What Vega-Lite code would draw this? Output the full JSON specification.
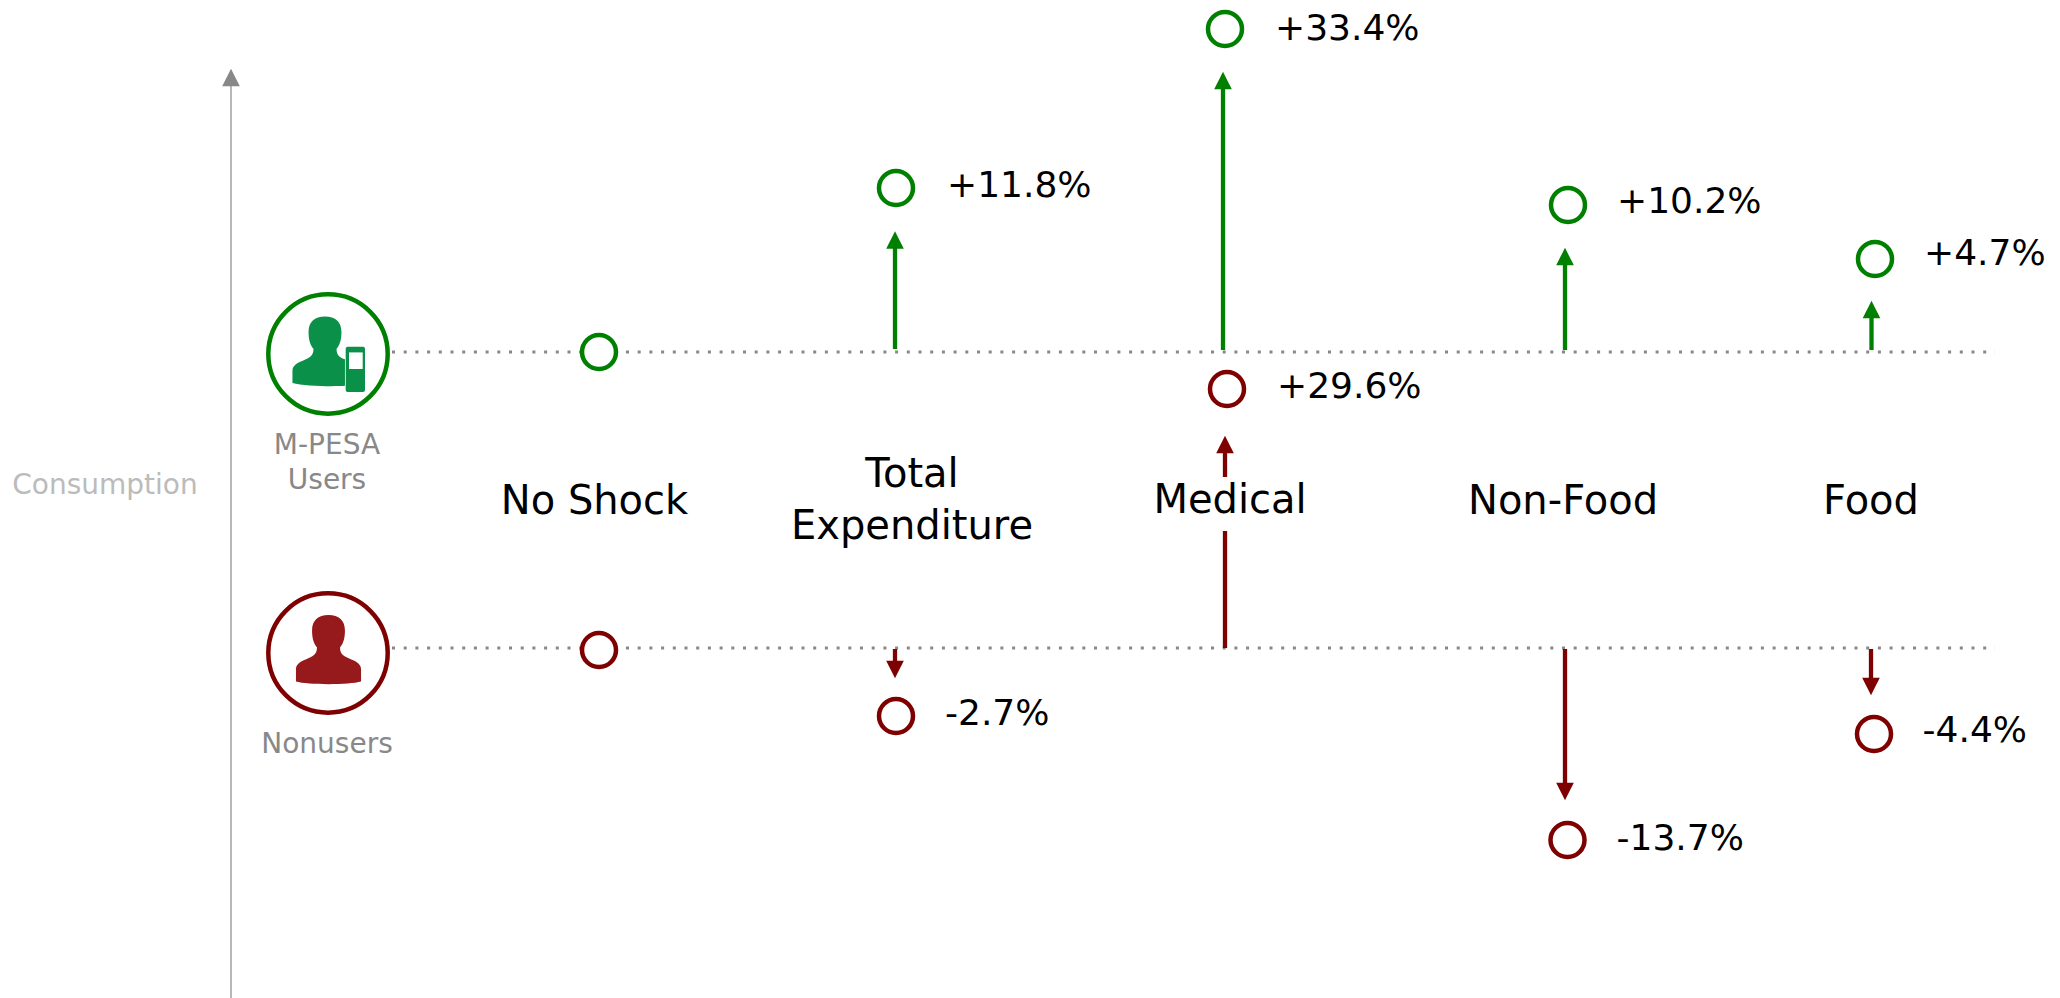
{"$schema":"https://vega.github.io/schema/vega-lite/v6.json","width":2060,"height":998,"padding":0,"autosize":{"type":"none"},"background":"white","config":{"view":{"stroke":null}},
"resolve":{"scale":{"shape":"independent"}},
"datasets":{
"guides":[{"name":"axis","pos":231,"a":86,"b":998}],
"dotted":[{"group":"users","from":392,"to":1995,"level":352},{"group":"nonusers","from":392,"to":1995,"level":648}],
"shafts":[
{"group":"users","category":"Total Expenditure","pos":895,"a":349,"b":245},
{"group":"users","category":"Medical","pos":1223,"a":350,"b":88},
{"group":"users","category":"Non-Food","pos":1565,"a":350,"b":264},
{"group":"users","category":"Food","pos":1871.5,"a":350,"b":317},
{"group":"nonusers","category":"Total Expenditure","pos":895,"a":649,"b":662},
{"group":"nonusers","category":"Medical","pos":1225,"a":648,"b":531},
{"group":"nonusers","category":"Medical","pos":1225,"a":477,"b":452},
{"group":"nonusers","category":"Non-Food","pos":1565,"a":649,"b":784},
{"group":"nonusers","category":"Food","pos":1871,"a":649,"b":679}],
"heads":[
{"group":"axis","dir":"up","pos":231,"level":77.5},
{"group":"users","dir":"up","pos":895,"level":240},
{"group":"users","dir":"up","pos":1223,"level":80.5},
{"group":"users","dir":"up","pos":1565,"level":256.5},
{"group":"users","dir":"up","pos":1871.5,"level":309.5},
{"group":"nonusers","dir":"up","pos":1225,"level":444.5},
{"group":"nonusers","dir":"down","pos":895,"level":669.5},
{"group":"nonusers","dir":"down","pos":1565,"level":791.5},
{"group":"nonusers","dir":"down","pos":1871,"level":686.5}],
"dots":[
{"group":"users","category":"No Shock","pos":599,"level":352},
{"group":"nonusers","category":"No Shock","pos":599,"level":650},
{"group":"users","category":"Total Expenditure","pos":896,"level":188},
{"group":"nonusers","category":"Total Expenditure","pos":896,"level":716},
{"group":"users","category":"Medical","pos":1225,"level":29},
{"group":"nonusers","category":"Medical","pos":1227,"level":389},
{"group":"users","category":"Non-Food","pos":1568,"level":205},
{"group":"nonusers","category":"Non-Food","pos":1567.5,"level":840},
{"group":"users","category":"Food","pos":1875,"level":259},
{"group":"nonusers","category":"Food","pos":1874,"level":734}],
"rings":[{"group":"users","pos":328,"level":354},{"group":"nonusers","pos":328,"level":653}],
"people":[{"who":"user","pos":325,"level":351.5},{"who":"nonuser","pos":328.5,"level":650}],
"phoneBody":[{"x1":345.7,"x2":365,"y1":346.7,"y2":392}],
"phoneScreen":[{"x1":349,"x2":362.7,"y1":352.4,"y2":369}],
"categories":[
{"label":"No Shock","pos":594.5,"level":502},
{"label":"Total","pos":912,"level":475},
{"label":"Expenditure","pos":912,"level":527},
{"label":"Medical","pos":1230,"level":501},
{"label":"Non-Food","pos":1563,"level":502},
{"label":"Food","pos":1871,"level":502}],
"values":[
{"label":"+33.4%","pos":1275,"level":29},
{"label":"+29.6%","pos":1277,"level":387},
{"label":"+11.8%","pos":947,"level":186},
{"label":"+10.2%","pos":1617,"level":202},
{"label":"+4.7%","pos":1924,"level":254},
{"label":"-2.7%","pos":945,"level":714},
{"label":"-13.7%","pos":1616.5,"level":839},
{"label":"-4.4%","pos":1922.6,"level":731}],
"greys":[
{"label":"M-PESA","pos":327,"level":446},
{"label":"Users","pos":327,"level":481},
{"label":"Nonusers","pos":327,"level":745}],
"title":[{"label":"Consumption","pos":105,"level":486}]
},
"layer":[
{"data":{"name":"dotted"},"mark":{"type":"rule","color":"#888888","strokeWidth":3,"strokeDash":[3,8.7]},"encoding":{"x":{"field":"from","type":"quantitative","scale":{"domain":[0,2060],"nice":false,"zero":false},"axis":null},"x2":{"field":"to"},"y":{"field":"level","type":"quantitative","scale":{"domain":[998,0],"nice":false,"zero":false},"axis":null}}},
{"data":{"name":"guides"},"mark":{"type":"rule","color":"#888888","strokeWidth":1.2},"encoding":{"x":{"field":"pos","type":"quantitative","scale":{"domain":[0,2060],"nice":false,"zero":false},"axis":null},"y":{"field":"a","type":"quantitative","scale":{"domain":[998,0],"nice":false,"zero":false},"axis":null},"y2":{"field":"b"}}},
{"data":{"name":"shafts"},"mark":{"type":"rule","strokeWidth":4.3},"encoding":{"x":{"field":"pos","type":"quantitative","scale":{"domain":[0,2060],"nice":false,"zero":false},"axis":null},"y":{"field":"a","type":"quantitative","scale":{"domain":[998,0],"nice":false,"zero":false},"axis":null},"y2":{"field":"b"},"color":{"field":"group","type":"nominal","legend":null,"scale":{"domain":["users","nonusers","axis"],"range":["#008000","#7f0000","#888888"]}}}},
{"data":{"name":"heads"},"mark":{"type":"point","filled":true,"opacity":1,"size":310,"strokeWidth":0},"encoding":{"x":{"field":"pos","type":"quantitative","scale":{"domain":[0,2060],"nice":false,"zero":false},"axis":null},"y":{"field":"level","type":"quantitative","scale":{"domain":[998,0],"nice":false,"zero":false},"axis":null},"color":{"field":"group","type":"nominal","legend":null,"scale":{"domain":["users","nonusers","axis"],"range":["#008000","#7f0000","#888888"]}},"shape":{"field":"dir","type":"nominal","legend":null,"scale":{"domain":["up","down"],"range":["M-1,1L1,1L0,-1Z","M-1,-1L1,-1L0,1Z"]}}}},
{"data":{"name":"dots"},"mark":{"type":"point","filled":true,"fill":"white","opacity":1,"size":1156,"strokeWidth":4.5},"encoding":{"x":{"field":"pos","type":"quantitative","scale":{"domain":[0,2060],"nice":false,"zero":false},"axis":null},"y":{"field":"level","type":"quantitative","scale":{"domain":[998,0],"nice":false,"zero":false},"axis":null},"stroke":{"field":"group","type":"nominal","legend":null,"scale":{"domain":["users","nonusers","axis"],"range":["#008000","#7f0000","#888888"]}}}},
{"data":{"name":"rings"},"mark":{"type":"point","filled":true,"fill":"white","opacity":1,"size":14256,"strokeWidth":4.5},"encoding":{"x":{"field":"pos","type":"quantitative","scale":{"domain":[0,2060],"nice":false,"zero":false},"axis":null},"y":{"field":"level","type":"quantitative","scale":{"domain":[998,0],"nice":false,"zero":false},"axis":null},"stroke":{"field":"group","type":"nominal","legend":null,"scale":{"domain":["users","nonusers","axis"],"range":["#008000","#7f0000","#888888"]}}}},
{"data":{"name":"people"},"mark":{"type":"point","filled":true,"opacity":1,"size":4900,"strokeWidth":0},"encoding":{"x":{"field":"pos","type":"quantitative","scale":{"domain":[0,2060],"nice":false,"zero":false},"axis":null},"y":{"field":"level","type":"quantitative","scale":{"domain":[998,0],"nice":false,"zero":false},"axis":null},"fill":{"field":"who","type":"nominal","legend":null,"scale":{"domain":["user","nonuser"],"range":["#0a9048","#96191c"]}},"shape":{"field":"who","type":"nominal","legend":null,"scale":{"domain":["user","nonuser"],"range":["M0,-1C.3,-1 .47,-.85 .47,-.55C.47,-.3 .4,-.15 .33,-.08C.33,.05 .36,.12 .5,.2L.57,.22L.57,.98C.3,1 -.6,1 -.93,.9L-.93,.55C-.93,.35 -.7,.3 -.5,.2C-.36,.12 -.33,.05 -.33,-.08C-.4,-.15 -.47,-.3 -.47,-.55C-.47,-.85 -.3,-1 0,-1Z","M0,-1C.3,-1 .47,-.85 .47,-.55C.47,-.3 .4,-.15 .33,-.08C.33,.05 .36,.12 .5,.2C.7,.3 .93,.35 .93,.55L.93,.9C.6,1 -.6,1 -.93,.9L-.93,.55C-.93,.35 -.7,.3 -.5,.2C-.36,.12 -.33,.05 -.33,-.08C-.4,-.15 -.47,-.3 -.47,-.55C-.47,-.85 -.3,-1 0,-1Z"]}}}},
{"data":{"name":"phoneBody"},"mark":{"type":"rect","color":"#0a9048","cornerRadius":2},"encoding":{"x":{"field":"x1","type":"quantitative","scale":{"domain":[0,2060],"nice":false,"zero":false},"axis":null},"x2":{"field":"x2"},"y":{"field":"y1","type":"quantitative","scale":{"domain":[998,0],"nice":false,"zero":false},"axis":null},"y2":{"field":"y2"}}},
{"data":{"name":"phoneScreen"},"mark":{"type":"rect","color":"white"},"encoding":{"x":{"field":"x1","type":"quantitative","scale":{"domain":[0,2060],"nice":false,"zero":false},"axis":null},"x2":{"field":"x2"},"y":{"field":"y1","type":"quantitative","scale":{"domain":[998,0],"nice":false,"zero":false},"axis":null},"y2":{"field":"y2"}}},
{"data":{"name":"categories"},"mark":{"type":"text","font":"DejaVu Sans","fontSize":40,"color":"#000000","align":"center","baseline":"middle"},"encoding":{"x":{"field":"pos","type":"quantitative","scale":{"domain":[0,2060],"nice":false,"zero":false},"axis":null},"y":{"field":"level","type":"quantitative","scale":{"domain":[998,0],"nice":false,"zero":false},"axis":null},"text":{"field":"label"}}},
{"data":{"name":"values"},"mark":{"type":"text","font":"DejaVu Sans","fontSize":36,"color":"#000000","align":"left","baseline":"middle"},"encoding":{"x":{"field":"pos","type":"quantitative","scale":{"domain":[0,2060],"nice":false,"zero":false},"axis":null},"y":{"field":"level","type":"quantitative","scale":{"domain":[998,0],"nice":false,"zero":false},"axis":null},"text":{"field":"label"}}},
{"data":{"name":"greys"},"mark":{"type":"text","font":"DejaVu Sans","fontSize":28,"color":"#888888","align":"center","baseline":"middle"},"encoding":{"x":{"field":"pos","type":"quantitative","scale":{"domain":[0,2060],"nice":false,"zero":false},"axis":null},"y":{"field":"level","type":"quantitative","scale":{"domain":[998,0],"nice":false,"zero":false},"axis":null},"text":{"field":"label"}}},
{"data":{"name":"title"},"mark":{"type":"text","font":"DejaVu Sans","fontSize":28,"color":"#bbbbbb","align":"center","baseline":"middle"},"encoding":{"x":{"field":"pos","type":"quantitative","scale":{"domain":[0,2060],"nice":false,"zero":false},"axis":null},"y":{"field":"level","type":"quantitative","scale":{"domain":[998,0],"nice":false,"zero":false},"axis":null},"text":{"field":"label"}}}
]}
